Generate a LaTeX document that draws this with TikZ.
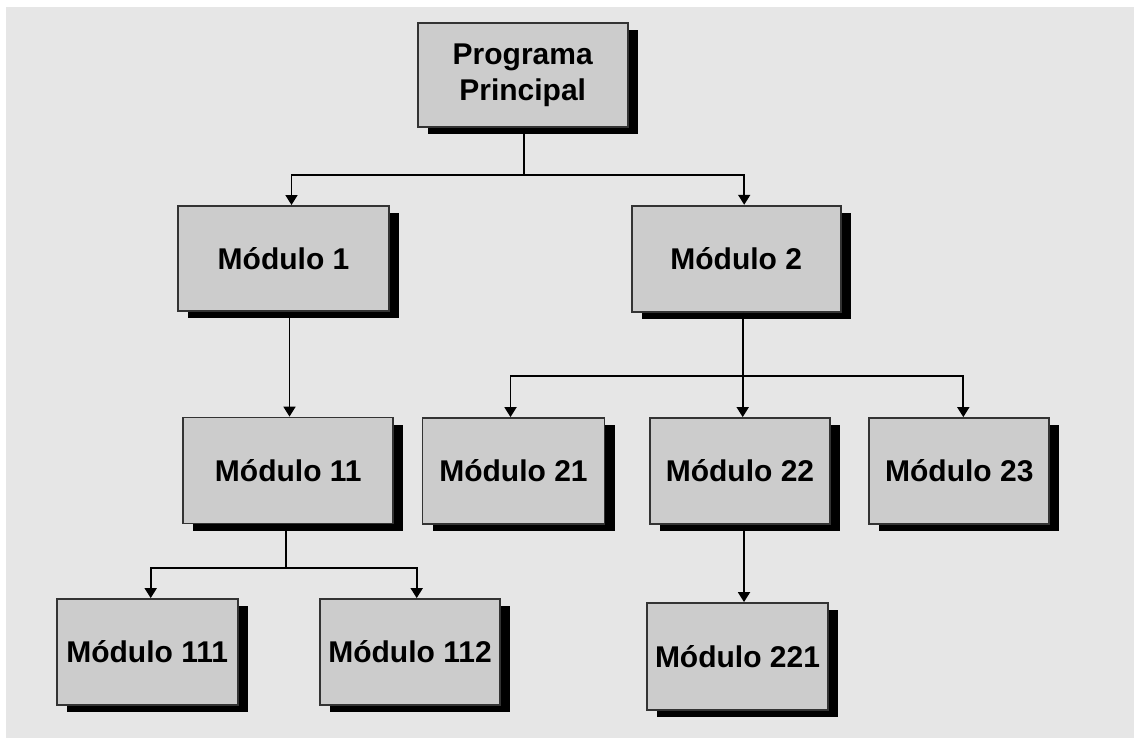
\documentclass[tikz,border=0pt]{standalone}
\usepackage{fontspec}
\setmainfont{Liberation Sans}
\usetikzlibrary{arrows.meta,shadows}
\definecolor{pagebg}{HTML}{E6E6E6}
\definecolor{boxfill}{HTML}{CCCCCC}
\definecolor{boxline}{HTML}{333333}
\tikzset{
  modbox/.style={draw=boxline, line width=1.8pt, fill=boxfill, inner sep=0pt,
    align=center, font=\fontsize{30}{36}\selectfont\bfseries,
    drop shadow={shadow xshift=10pt, shadow yshift=-7pt, opacity=1, fill=black}},
  link/.style={line width=1.8pt, black},
  arr/.style={link, -{Triangle[width=12pt,length=10pt]}}
}
\begin{document}
\begin{tikzpicture}[x=1pt,y=-1pt]
\useasboundingbox (0,0) rectangle (1134,738);
\fill[white] (0,0) rectangle (1134,738);
\fill[pagebg] (6,7) rectangle (1134,738);

% module boxes
\node[modbox, minimum width=210pt, minimum height=104pt] (pp)   at (522.7,75)  {Programa\\Principal};
\node[modbox, minimum width=211pt, minimum height=105pt] (m1)   at (283.5,258.4) {Módulo 1};
\node[modbox, minimum width=209pt, minimum height=106pt] (m2)   at (736.2,258.7) {Módulo 2};
\node[modbox, minimum width=210pt, minimum height=106pt] (m11)  at (288.3,470.5) {Módulo 11};
\node[modbox, minimum width=182pt, minimum height=106pt] (m21)  at (513.5,471) {Módulo 21};
\node[modbox, minimum width=180pt, minimum height=106pt] (m22)  at (740,471) {Módulo 22};
\node[modbox, minimum width=180pt, minimum height=106pt] (m23)  at (959.3,471) {Módulo 23};
\node[modbox, minimum width=181pt, minimum height=106pt] (m111) at (147.2,652) {Módulo 111};
\node[modbox, minimum width=180pt, minimum height=106pt] (m112) at (410,652) {Módulo 112};
\node[modbox, minimum width=181pt, minimum height=107pt] (m221) at (737.5,656.5) {Módulo 221};

% junction points of the branching lines
\coordinate (j0) at (524,175);
\coordinate (j2) at (742.7,375.7);
\coordinate (j11) at (286,568.3);

% Programa Principal -> Modulo 1, Modulo 2
\draw[link] (pp.south -| j0) -- (j0);
\draw[arr] (j0) -| ([xshift=8pt]m1.north);
\draw[arr] (j0) -| ([xshift=8pt]m2.north);

% Modulo 1 -> Modulo 11
\draw[arr] ([xshift=6pt]m1.south) -- ([xshift=6pt]m1.south |- m11.north);

% Modulo 2 -> Modulo 21, 22, 23
\draw[link] (m2.south -| j2) -- (j2);
\draw[arr] (j2) -| ([xshift=-3pt]m21.north);
\draw[arr] (j2) -- (j2 |- m22.north);
\draw[arr] (j2) -| ([xshift=4pt]m23.north);

% Modulo 11 -> Modulo 111, 112
\draw[link] (m11.south -| j11) -- (j11);
\draw[arr] (j11) -| ([xshift=3.5pt]m111.north);
\draw[arr] (j11) -| ([xshift=6.7pt]m112.north);

% Modulo 22 -> Modulo 221
\draw[arr] ([xshift=4pt]m22.south) -- ([xshift=4pt]m22.south |- m221.north);
\end{tikzpicture}
\end{document}
